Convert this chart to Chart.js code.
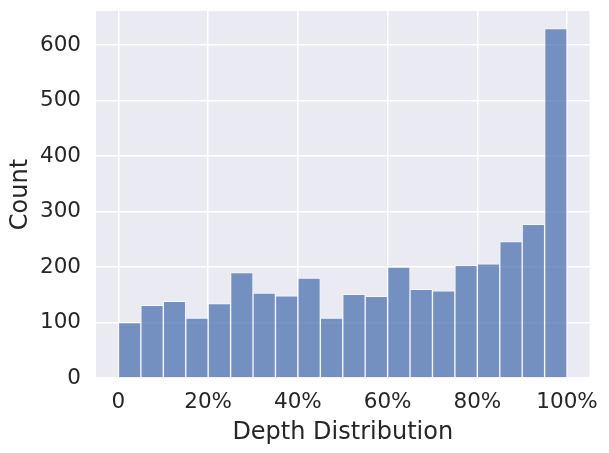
<!DOCTYPE html>
<html>
<head>
<meta charset="utf-8">
<script src="https://cdn.jsdelivr.net/npm/chart.js@4"></script>
<style>
  html, body { margin: 0; padding: 0; background: #ffffff; }
  #wrap { width: 609px; height: 453px; }
</style>
</head>
<body>
<div id="wrap"><canvas id="c" width="609" height="453"></canvas></div>
<script>
// Histogram bins (percent of depth) and counts
const binStarts = [0, 5, 10, 15, 20, 25, 30, 35, 40, 45, 50, 55, 60, 65, 70, 75, 80, 85, 90, 95];
const binEnds   = [5, 10, 15, 20, 25, 30, 35, 40, 45, 50, 55, 60, 65, 70, 75, 80, 85, 90, 95, 100];
const counts    = [100, 131, 138, 108, 134, 190, 153, 148, 180, 108, 151, 147, 200, 160, 157, 203, 206, 246, 277, 630];
const xTickValues = [0, 20, 40, 60, 80, 100];
const xTickLabels = ['0', '20%', '40%', '60%', '80%', '100%'];
const yTickValues = [0, 100, 200, 300, 400, 500, 600];
const xTitle = 'Depth Distribution';
const yTitle = 'Count';

const points = binStarts.map((s, i) => ({ x: (s + binEnds[i]) / 2, y: counts[i] }));
const yMax = Math.max(...counts) * 1.05;

const bgPlugin = {
  id: 'plotBg',
  beforeDraw(chart) {
    const { ctx, chartArea: a } = chart;
    ctx.save();
    ctx.fillStyle = '#EAEAF2';
    ctx.fillRect(a.left, a.top, a.right - a.left, a.bottom - a.top);
    ctx.restore();
  }
};

const textColor = '#262626';
const font = "'DejaVu Sans', sans-serif";

new Chart(document.getElementById('c'), {
  type: 'bar',
  data: {
    datasets: [{
      data: points,
      backgroundColor: 'rgba(76,114,176,0.75)',
      borderColor: 'rgba(255,255,255,0.55)',
      borderWidth: 1,
      barPercentage: 1,
      categoryPercentage: 1
    }]
  },
  options: {
    responsive: false,
    devicePixelRatio: 1,
    animation: false,
    layout: { padding: { top: 11, right: 19.5, left: 0, bottom: 0 } },
    plugins: { legend: { display: false }, tooltip: { enabled: false } },
    scales: {
      x: {
        type: 'linear',
        offset: false,
        min: -5,
        max: 105,
        afterFit(scale) { scale.height = 75; scale.paddingLeft = 0; scale.paddingRight = 0; },
        afterBuildTicks(scale) { scale.ticks = xTickValues.map(v => ({ value: v })); },
        ticks: {
          includeBounds: false,
          color: textColor,
          font: { family: font, size: 21.5 },
          padding: 12,
          maxRotation: 0,
          autoSkip: false,
          callback: (v) => xTickLabels[xTickValues.indexOf(v)] ?? ''
        },
        grid: { color: '#ffffff', lineWidth: 1.5, drawTicks: false, offset: false },
        border: { display: false },
        title: {
          display: true, text: xTitle, color: textColor,
          font: { family: font, size: 24 }, padding: { top: 0, bottom: 6 }
        }
      },
      y: {
        type: 'linear',
        min: 0,
        max: yMax,
        afterFit(scale) { scale.width = 96; scale.paddingTop = 0; scale.paddingBottom = 0; },
        afterBuildTicks(scale) { scale.ticks = yTickValues.map(v => ({ value: v })); },
        ticks: {
          includeBounds: false,
          color: textColor,
          font: { family: font, size: 21.5 },
          padding: 15
        },
        grid: { color: '#ffffff', lineWidth: 1.5, drawTicks: false },
        border: { display: false },
        title: {
          display: true, text: yTitle, color: textColor,
          font: { family: font, size: 24 }, padding: { top: 6, bottom: 0 }
        }
      }
    }
  },
  plugins: [bgPlugin]
});
</script>
</body>
</html>
